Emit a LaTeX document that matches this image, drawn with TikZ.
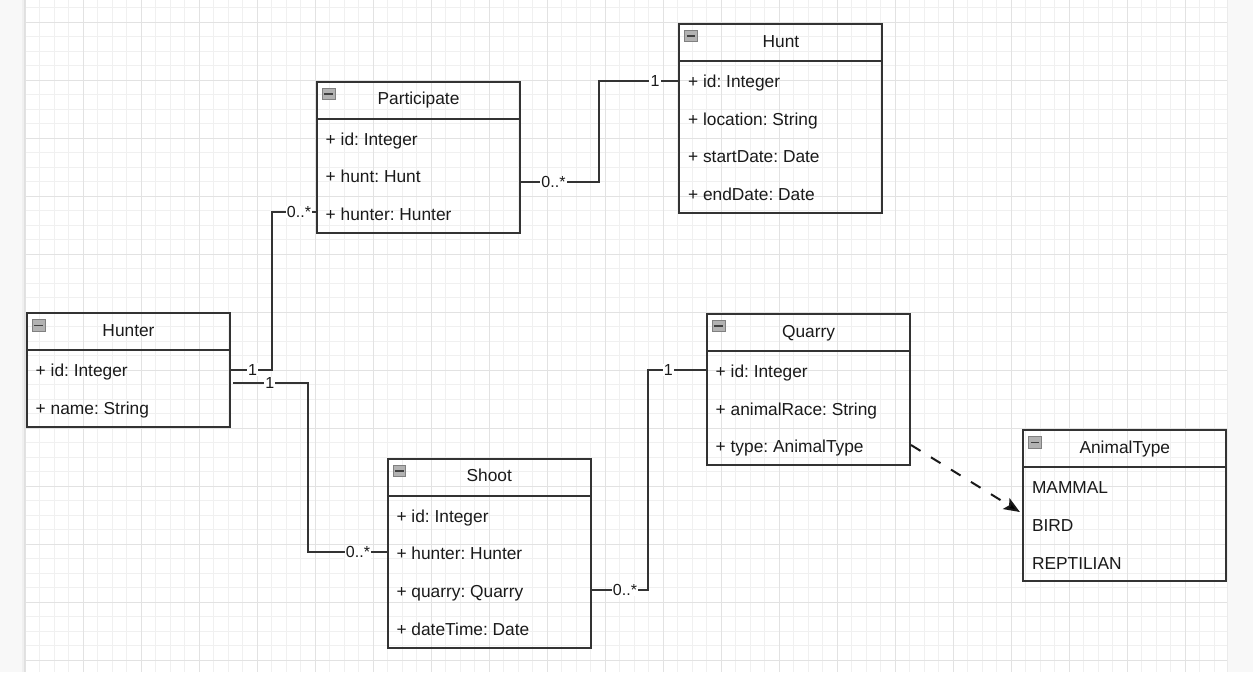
\documentclass[tikz,border=0pt]{standalone}
\usepackage{fontspec}
\setmainfont{Liberation Sans}
\usetikzlibrary{arrows.meta}
\frenchspacing

\definecolor{inkline}{HTML}{333333}
\definecolor{inktext}{HTML}{1A1A1A}
\definecolor{gridminor}{HTML}{F0F0F0}
\definecolor{gridmajor}{HTML}{E2E2E2}
\definecolor{sidestrip}{HTML}{F8F8F8}

% one UML class: name, x, y (top-left, px), height, title, rows
\newcommand\umlclass[6]{%
  \node[classbox, minimum height=#4] (#1) at (#2,#3) {};
  \draw[classline] ([yshift=-28.5pt]#1.north west) -- ([yshift=-28.5pt]#1.north east);
  \node[foldicon] (#1-icon) at ([xshift=4.5pt,yshift=-5.25pt]#1.north west) {};
  \draw[foldbar] ([xshift=1.8pt]#1-icon.west) -- ([xshift=-1.8pt]#1-icon.east);
  \node[classtitle] (#1-t) at ([yshift=-18pt]#1.north) {#5};
  \foreach \txt [count=\k] in {#6}{%
    \node[classrow] (#1-r\k) at ([xshift=7.1pt,yshift={-48.4pt-28.2pt*(\k-1)}]#1.north west) {\txt};
  }%
}

\begin{document}
\begin{tikzpicture}[x=0.75pt,y=-0.75pt,
  gminor/.style={draw=gridminor, line width=0.75pt},
  gmajor/.style={draw=gridmajor, line width=0.75pt},
  classbox/.style={draw=inkline, line width=1.5pt, rectangle, anchor=north west,
    minimum width=152.25pt, inner sep=0pt},
  classline/.style={draw=inkline, line width=1.5pt},
  foldicon/.style={rectangle, anchor=north west, minimum width=9.4pt, minimum height=8.6pt,
    inner sep=0pt, fill=black!30, draw=black!50, line width=0.5pt},
  foldbar/.style={draw=black!75, line width=1.1pt},
  classtitle/.style={anchor=base, inner sep=0pt, text=inktext,
    font=\fontsize{13}{15.6}\selectfont},
  classrow/.style={anchor=base west, inner sep=0pt, text=inktext,
    font=\fontsize{13}{15.6}\selectfont},
  assoc/.style={draw=inkline, line width=1.5pt},
  mult/.style={fill=white, inner xsep=1pt, inner ysep=0.5pt, text=inktext,
    font=\fontsize{12}{14}\selectfont},
  depend/.style={draw=black!90, line width=1.5pt, dash pattern=on 8.4pt off 9.2pt,
    -{Stealth[length=12pt,width=9.5pt,inset=2.5pt,fill=black]}},
]

% canvas, side strips and grid
\fill[white] (0,0) rectangle (1253,672);
\useasboundingbox (0,0) rectangle (1253,672);
\fill[sidestrip] (0,0) rectangle (24.5,672);
\fill[sidestrip] (1226.5,0) rectangle (1253,672);
\draw[black!6, line width=1.5pt] (22.5,0) -- (22.5,672);
\draw[black!12, line width=0.75pt] (24,0) -- (24,672);
\draw[black!8, line width=0.75pt] (1227,0) -- (1227,672);

\foreach \i in {0,...,82}
  \draw[gminor] ({25+14.5*\i},0) -- ({25+14.5*\i},672);
\foreach \j in {-1,...,44}
  \draw[gminor] (24.5,{22.3+14.5*\j}) -- (1226.5,{22.3+14.5*\j});
\foreach \i in {0,4,...,80}
  \draw[gmajor] ({25+14.5*\i},0) -- ({25+14.5*\i},672);
\foreach \j in {0,4,...,44}
  \draw[gmajor] (24.5,{22.3+14.5*\j}) -- (1226.5,{22.3+14.5*\j});

% classes
\umlclass{participate}{316}{80.7}{113.3pt}{Participate}{+ id: Integer, + hunt: Hunt, + hunter: Hunter}
\umlclass{hunt}{678.4}{23}{141.6pt}{Hunt}{+ id: Integer, + location: String, + startDate: Date, + endDate: Date}
\umlclass{hunter}{26}{312.3}{85.05pt}{Hunter}{+ id: Integer, + name: String}
\umlclass{shoot}{386.8}{457.7}{141.6pt}{Shoot}{+ id: Integer, + hunter: Hunter, + quarry: Quarry, + dateTime: Date}
\umlclass{quarry}{706}{313}{113.3pt}{Quarry}{+ id: Integer, + animalRace: String, + type: AnimalType}
\umlclass{animaltype}{1022.3}{429.3}{113.3pt}{AnimalType}{MAMMAL, BIRD, REPTILIAN}

% connector ports
\coordinate (pp-hunt)   at (participate.east |- 0,182.3);
\coordinate (pp-hunter) at (participate.west |- 0,212);
\coordinate (hu-id)     at (hunt.west |- 0,81);
\coordinate (hr-a)      at (hunter.east |- 0,369.5);
\coordinate (hr-b)      at ([xshift=1.8pt]hunter.east |- 0,383);
\coordinate (sh-hunter) at (shoot.west |- 0,552.3);
\coordinate (sh-quarry) at (shoot.east |- 0,589.5);
\coordinate (qu-id)     at (quarry.west |- 0,369.7);
\coordinate (qu-type)   at (quarry.east |- 0,445);
\coordinate (at-in)     at ([xshift=-1.8pt]animaltype.west |- 0,512);

% associations
\draw[assoc] (pp-hunt) -| (598.7,130) |- (hu-id);
\draw[assoc] (pp-hunter) -| (272.3,300) |- (hr-a);
\draw[assoc] (hr-b) -| (308.3,470) |- (sh-hunter);
\draw[assoc] (sh-quarry) -| (648.3,480) |- (qu-id);

% multiplicities
\node[mult] (m1) at (553.5,182.3) {0..*};
\node[mult] (m2) at (655,81) {1};
\node[mult] (m3) at (299,212) {0..*};
\node[mult] (m4) at (252.5,369.5) {1};
\node[mult] (m5) at (269.7,383) {1};
\node[mult] (m6) at (358,552.3) {0..*};
\node[mult] (m7) at (625,589.5) {0..*};
\node[mult] (m8) at (668.3,369.7) {1};

% dependency on the enumeration
\draw[depend] (qu-type) -- (at-in);

\end{tikzpicture}
\end{document}
